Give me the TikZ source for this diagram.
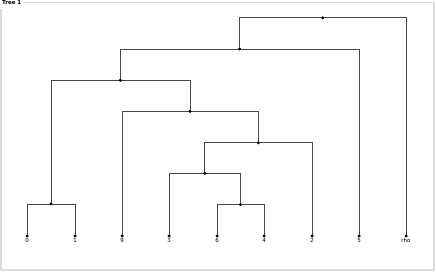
\documentclass[tikz,border=0pt]{standalone}
\usepackage{fontspec}
\setmainfont{DejaVu Sans}
\begin{document}
\begin{tikzpicture}[x=1pt,y=-1pt,
  edge/.style={draw=black!72,line width=0.9pt},
  dotnode/.style={circle,fill=black,inner sep=0pt,minimum size=3pt},
  leaflabel/.style={font=\fontsize{5.5}{6}\selectfont,anchor=north,inner sep=0pt},
  frame/.style={draw=black!14,line width=1.4pt}]
\useasboundingbox (0,0) rectangle (436,272);
\fill[white] (0,0) rectangle (436,272);
% frame
\node[font=\bfseries\fontsize{5.5}{6}\selectfont,anchor=west,inner sep=0pt] (title) at (2,2.6) {Tree 1};
\draw[frame] (title.east) ++(2,0) coordinate (fs) -- (434,2.6) -- (434,270) -- (1,270) -- (1,9);
% leaves
\foreach \n/\x/\t in {l0/27/0,l1/75/1,l9/122/9,l3/169/3,l6/217/6,l4/264/4,l2/312/2,l5/359/5,lrho/406/rho}{
  \node[dotnode] (\n) at (\x,236) {};
  \node[leaflabel] at (\x,238.5) {\t};
}
% internal nodes
\node[dotnode] (a) at (51,204) {};
\node[dotnode] (b) at (240.3,204.5) {};
\node[dotnode] (c) at (204.7,173.3) {};
\node[dotnode] (d) at (258.3,142.8) {};
\node[dotnode] (e) at (190,111.3) {};
\node[dotnode] (f) at (120.3,80.3) {};
\node[dotnode] (g) at (239.5,49) {};
\node[dotnode] (r) at (322.7,17.8) {};
% edges
\foreach \p/\q in {a/l0,a/l1,b/l6,b/l4,c/l3,c/b,d/c,d/l2,e/l9,e/d,f/a,f/e,g/f,g/l5,r/g,r/lrho}{
  \draw[edge] (\p.center) -| (\q.center);
}
\foreach \n in {l0,l1,l9,l3,l6,l4,l2,l5,lrho,a,b,c,d,e,f,g,r}{
  \fill (\n) circle (1.5pt);
}
\end{tikzpicture}
\end{document}
